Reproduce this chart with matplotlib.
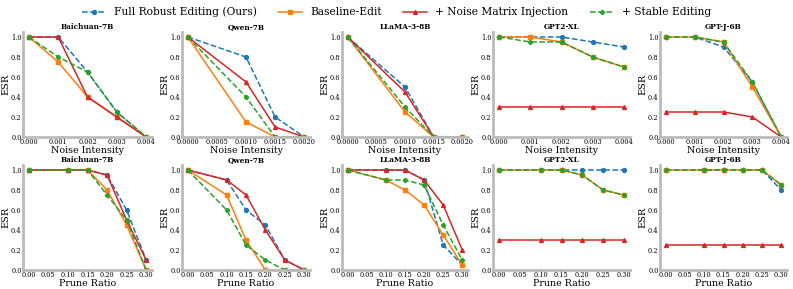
import numpy as np
import matplotlib.pyplot as plt

plt.rcParams['font.family'] = 'DejaVu Serif'

models = ['Baichuan-7B', 'Qwen-7B', 'LLaMA-3-8B', 'GPT2-XL', 'GPT-J-6B']
series = ['Full Robust Editing (Ours)', 'Baseline-Edit',
          '+ Noise Matrix Injection', '+ Stable Editing']

# noise intensity row
noise_x = {
    'Baichuan-7B': [0, 0.001, 0.002, 0.003, 0.004],
    'Qwen-7B': [0, 0.001, 0.0015, 0.002],
    'LLaMA-3-8B': [0, 0.001, 0.0015, 0.002],
    'GPT2-XL': [0, 0.001, 0.002, 0.003, 0.004],
    'GPT-J-6B': [0, 0.001, 0.002, 0.003, 0.004],
}
noise_full = {
    'Baichuan-7B': [1, 1, 0.65, 0.25, 0],
    'Qwen-7B': [1, 0.8, 0.2, 0],
    'LLaMA-3-8B': [1, 0.5, 0, 0],
    'GPT2-XL': [1, 1, 1, 0.95, 0.9],
    'GPT-J-6B': [1, 1, 0.9, 0.55, 0],
}
noise_base = {
    'Baichuan-7B': [1, 0.75, 0.4, 0.2, 0],
    'Qwen-7B': [1, 0.15, 0, 0],
    'LLaMA-3-8B': [1, 0.25, 0, 0],
    'GPT2-XL': [1, 1, 0.95, 0.8, 0.7],
    'GPT-J-6B': [1, 1, 0.95, 0.5, 0],
}
noise_nmi = {
    'Baichuan-7B': [1, 1, 0.4, 0.2, 0],
    'Qwen-7B': [1, 0.55, 0.1, 0],
    'LLaMA-3-8B': [1, 0.45, 0, 0],
    'GPT2-XL': [0.3, 0.3, 0.3, 0.3, 0.3],
    'GPT-J-6B': [0.25, 0.25, 0.25, 0.2, 0],
}
noise_stable = {
    'Baichuan-7B': [1, 0.8, 0.65, 0.25, 0],
    'Qwen-7B': [1, 0.4, 0, 0],
    'LLaMA-3-8B': [1, 0.3, 0, 0],
    'GPT2-XL': [1, 0.95, 0.95, 0.8, 0.7],
    'GPT-J-6B': [1, 1, 0.95, 0.55, 0],
}

# prune ratio row
prune_x = [0, 0.1, 0.15, 0.2, 0.25, 0.3]
prune_full = {
    'Baichuan-7B': [1, 1, 1, 0.95, 0.6, 0.1],
    'Qwen-7B': [1, 0.9, 0.6, 0.45, 0.1, 0],
    'LLaMA-3-8B': [1, 1, 1, 0.9, 0.25, 0.05],
    'GPT2-XL': [1, 1, 1, 1, 1, 1],
    'GPT-J-6B': [1, 1, 1, 1, 1, 0.8],
}
prune_base = {
    'Baichuan-7B': [1, 1, 1, 0.8, 0.45, 0],
    'Qwen-7B': [1, 0.75, 0.3, 0, 0, 0],
    'LLaMA-3-8B': [1, 0.9, 0.8, 0.65, 0.35, 0.05],
    'GPT2-XL': [1, 1, 1, 0.95, 0.8, 0.75],
    'GPT-J-6B': [1, 1, 1, 1, 1, 0.85],
}
prune_nmi = {
    'Baichuan-7B': [1, 1, 1, 0.95, 0.5, 0.1],
    'Qwen-7B': [1, 0.9, 0.75, 0.4, 0.1, 0],
    'LLaMA-3-8B': [1, 1, 1, 0.9, 0.65, 0.2],
    'GPT2-XL': [0.3, 0.3, 0.3, 0.3, 0.3, 0.3],
    'GPT-J-6B': [0.25, 0.25, 0.25, 0.25, 0.25, 0.25],
}
prune_stable = {
    'Baichuan-7B': [1, 1, 1, 0.75, 0.5, 0],
    'Qwen-7B': [1, 0.6, 0.25, 0.1, 0, 0],
    'LLaMA-3-8B': [1, 0.9, 0.9, 0.85, 0.45, 0.1],
    'GPT2-XL': [1, 1, 1, 0.95, 0.8, 0.75],
    'GPT-J-6B': [1, 1, 1, 1, 1, 0.85],
}

styles = [
    dict(color='#1f77b4', ls='--', marker='o'),
    dict(color='#ff7f0e', ls='-', marker='s'),
    dict(color='#d62728', ls='-', marker='^'),
    dict(color='#2ca02c', ls='--', marker='P'),
]

W, H = 793, 289
fig = plt.figure(figsize=(W / 100, H / 100), dpi=100)
# panel extents in pixels (left, right) per column, (top, bottom) per row
cols = [(23, 152), (182, 310), (342, 468), (493, 630), (660, 787)]
rows = [(32, 137), (165, 270)]
axes = np.empty((2, 5), dtype=object)
for r, (t, b) in enumerate(rows):
    for c, (l, rt) in enumerate(cols):
        axes[r, c] = fig.add_axes([l / W, 1 - b / H, (rt - l) / W, (b - t) / H])

def draw(ax, x, ys, title, xlabel):
    for y, st, name in zip(ys, styles, series):
        ax.plot(x, y, lw=1.1, ms=2.8, label=name, **st)
    ax.set_title(title, fontsize=5.3, fontweight='bold', pad=2)
    ax.set_xlabel(xlabel, fontsize=6.8, labelpad=-0.5)
    ax.set_ylabel('ESR', fontsize=7, labelpad=0.5)
    ax.set_ylim(0, 1.05)
    ax.set_yticks([0, 0.2, 0.4, 0.6, 0.8, 1.0])
    ax.tick_params(labelsize=4.8, length=0, pad=1)
    for s in ['top', 'right']:
        ax.spines[s].set_visible(False)
    for s in ['left', 'bottom']:
        ax.spines[s].set_color('#bbbbbb')
        ax.spines[s].set_linewidth(2)

for i, m in enumerate(models):
    ax = axes[0, i]
    draw(ax, noise_x[m], [noise_full[m], noise_base[m], noise_nmi[m], noise_stable[m]],
         m, 'Noise Intensity')
    if len(noise_x[m]) == 4:
        ax.set_xticks([0, 0.0005, 0.001, 0.0015, 0.002])
        ax.set_xticklabels(['0.0000', '0.0005', '0.0010', '0.0015', '0.0020'])
    else:
        ax.set_xticks([0, 0.001, 0.002, 0.003, 0.004])
        ax.set_xticklabels(['0.000', '0.001', '0.002', '0.003', '0.004'])

    ax = axes[1, i]
    draw(ax, prune_x, [prune_full[m], prune_base[m], prune_nmi[m], prune_stable[m]],
         m, 'Prune Ratio')
    ax.set_xticks([0, 0.05, 0.1, 0.15, 0.2, 0.25, 0.3])
    ax.set_xticklabels(['0.00', '0.05', '0.10', '0.15', '0.20', '0.25', '0.30'])

handles, labels = axes[0, 0].get_legend_handles_labels()
fig.legend(handles, labels, loc='center', ncol=4, frameon=False,
           fontsize=7.7, bbox_to_anchor=(0.5, 1 - 12 / H), columnspacing=2.0,
           handlelength=2.2, handletextpad=0.8)

fig.savefig('out.png', dpi=100)
